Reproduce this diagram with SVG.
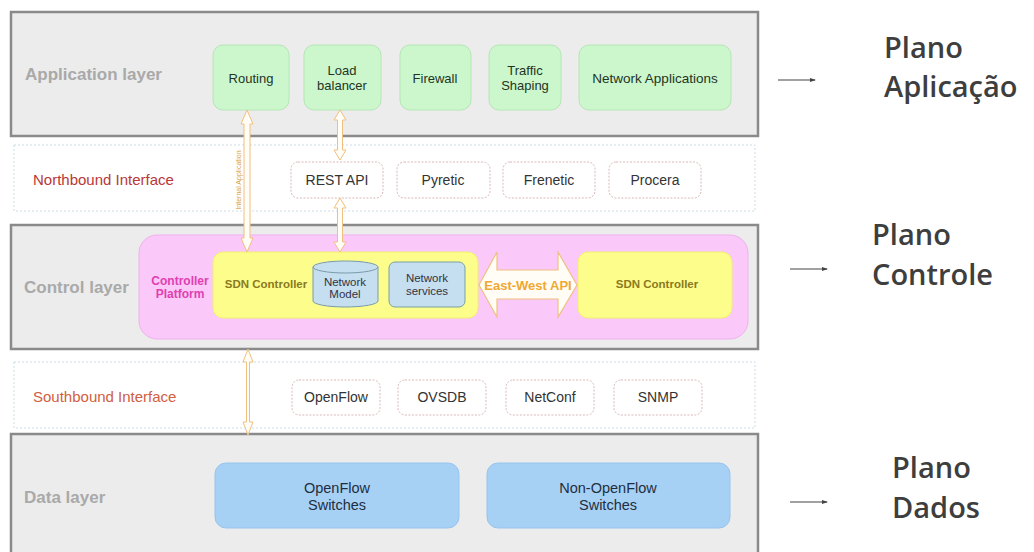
<svg xmlns="http://www.w3.org/2000/svg" width="1034" height="552" viewBox="0 0 1034 552">
<style>
.layer{fill:#ececec;stroke:#8a8a8a;stroke-width:2.5}
.iface{fill:#fff;stroke:#cfdde6;stroke-width:1;stroke-dasharray:2 2}
.app{fill:#ccf7cc;stroke:#b5e6b5;stroke-width:1}
.api{fill:#fff;stroke:#d9b8b8;stroke-width:1;stroke-dasharray:2 1.5}
.sw{fill:#a7d0f5;stroke:#98c4ec;stroke-width:1}
.t{font-family:"Liberation Sans",Arial,sans-serif;text-anchor:middle;dominant-baseline:central}
.lt{font-family:"Liberation Sans",Arial,sans-serif;font-weight:bold;fill:#a9a9a9;font-size:17px;dominant-baseline:central}
.n{font-size:13px;fill:#243424}
.a{font-size:14px;fill:#333}
.pl{font-family:"Open Sans",sans-serif;font-weight:600;font-size:29px;fill:#3e3e3e}
.darr{fill:#fffdf5;stroke:#f0c080;stroke-width:1}
</style>
<defs>
<marker id="ah" markerWidth="6" markerHeight="6" refX="5" refY="3" orient="auto" markerUnits="userSpaceOnUse">
<path d="M0,1 L6,3 L0,5 Z" fill="#444"/>
</marker>
</defs>

<g id="application-layer">
<rect class="layer" x="11" y="12" width="747" height="124"/>
<text class="lt" x="25" y="74">Application layer</text>
</g>
<g id="routing"><rect class="app" x="213" y="45" width="76" height="65" rx="10"/><text class="t n" x="251" y="78">Routing</text></g>
<g id="load-balancer"><rect class="app" x="304" y="45" width="77" height="65" rx="10"/><text class="t n" x="342" y="70">Load</text><text class="t n" x="342" y="85">balancer</text></g>
<g id="firewall"><rect class="app" x="400" y="45" width="71" height="65" rx="10"/><text class="t n" x="435" y="78">Firewall</text></g>
<g id="traffic-shaping"><rect class="app" x="489" y="45" width="72" height="65" rx="10"/><text class="t n" x="525" y="70">Traffic</text><text class="t n" x="525" y="85">Shaping</text></g>
<g id="network-applications"><rect class="app" x="579" y="45" width="152" height="65" rx="10"/><text class="t n" x="655" y="78" style="font-size:13.5px">Network Applications</text></g>

<g id="northbound-interface">
<rect class="iface" x="14" y="145" width="741" height="66"/>
<text class="lt" x="33" y="179" style="font-weight:normal;fill:#b83838;font-size:15px">Northbound Interface</text>
</g>
<g id="rest-api"><rect class="api" x="291" y="162" width="92" height="36" rx="7"/><text class="t a" x="337" y="180">REST API</text></g>
<g id="pyretic"><rect class="api" x="397" y="162" width="93" height="36" rx="7"/><text class="t a" x="443" y="180">Pyretic</text></g>
<g id="frenetic"><rect class="api" x="503" y="162" width="92" height="36" rx="7"/><text class="t a" x="549" y="180">Frenetic</text></g>
<g id="procera"><rect class="api" x="609" y="162" width="92" height="36" rx="7"/><text class="t a" x="655" y="180">Procera</text></g>

<g id="control-layer">
<rect class="layer" x="11" y="225" width="747" height="124"/>
<text class="lt" x="24" y="287">Control layer</text>
</g>
<g id="controller-platform">
<rect x="139" y="235" width="609" height="104" rx="18" fill="#fbc8fa" stroke="#f0b0ef" stroke-width="1"/>
<text class="t" x="180" y="281" style="font-size:12px;font-weight:bold;fill:#e040b0">Controller</text>
<text class="t" x="180" y="294" style="font-size:12px;font-weight:bold;fill:#e040b0">Platform</text>
</g>
<g id="sdn-controller-1">
<rect x="213" y="252" width="265" height="66" rx="10" fill="#fdfd8c" stroke="#f0f070" stroke-width="1"/>
<text class="t" x="266" y="284" style="font-size:11.5px;font-weight:bold;fill:#8a7a20">SDN Controller</text>
</g>
<g id="network-model">
<path d="M313,267 L313,301 A32.5,6 0 0 0 378,301 L378,267" fill="#c5dff0" stroke="#7a9aaa" stroke-width="1"/>
<ellipse cx="345.5" cy="267" rx="32.5" ry="6" fill="#c5dff0" stroke="#7a9aaa" stroke-width="1"/>
<text class="t" x="345" y="282" style="font-size:11.5px;fill:#334">Network</text>
<text class="t" x="345" y="294" style="font-size:11.5px;fill:#334">Model</text>
</g>
<g id="network-services">
<rect x="389" y="262" width="76" height="45" rx="6" fill="#c5dff0" stroke="#7aa0a0" stroke-width="1"/>
<text class="t" x="427" y="278" style="font-size:11.5px;fill:#334">Network</text>
<text class="t" x="427" y="291" style="font-size:11.5px;fill:#334">services</text>
</g>
<g id="sdn-controller-2">
<rect x="578" y="252" width="154" height="66" rx="10" fill="#fdfd8c" stroke="#f0f070" stroke-width="1"/>
<text class="t" x="657" y="284" style="font-size:11.5px;font-weight:bold;fill:#8a7a20">SDN Controller</text>
</g>

<g id="southbound-interface">
<rect class="iface" x="14" y="362" width="741" height="66"/>
<text class="lt" x="33" y="396" style="font-weight:normal;fill:#d06040;font-size:15px">Southbound Interface</text>
</g>
<g id="openflow"><rect class="api" x="292" y="380" width="88" height="35" rx="7"/><text class="t a" x="336" y="397">OpenFlow</text></g>
<g id="ovsdb"><rect class="api" x="398" y="380" width="88" height="35" rx="7"/><text class="t a" x="442" y="397">OVSDB</text></g>
<g id="netconf"><rect class="api" x="506" y="380" width="88" height="35" rx="7"/><text class="t a" x="550" y="397">NetConf</text></g>
<g id="snmp"><rect class="api" x="614" y="380" width="88" height="35" rx="7"/><text class="t a" x="658" y="397">SNMP</text></g>

<g id="data-layer">
<rect class="layer" x="11" y="434" width="747" height="125"/>
<text class="lt" x="24" y="497">Data layer</text>
</g>
<g id="openflow-switches"><rect class="sw" x="215" y="463" width="244" height="65" rx="11"/><text class="t" x="337" y="488" style="font-size:14.5px;fill:#1e2e40">OpenFlow</text><text class="t" x="337" y="505" style="font-size:14.5px;fill:#1e2e40">Switches</text></g>
<g id="non-openflow-switches"><rect class="sw" x="487" y="463" width="243" height="65" rx="11"/><text class="t" x="608" y="488" style="font-size:14.5px;fill:#1e2e40">Non-OpenFlow</text><text class="t" x="608" y="505" style="font-size:14.5px;fill:#1e2e40">Switches</text></g>

<g id="connectors">
<path class="darr" d="M247,110 L253,124 L250,124 L250,238 L253,238 L247,252 L241,238 L244,238 L244,124 L241,124 Z"/>
<text transform="translate(238,180) rotate(-90)" class="t" style="font-size:7px;fill:#d9a040">Internal Application</text>
<path class="darr" d="M340,110 L346,120 L342.5,120 L342.5,150 L346,150 L340,160 L334,150 L337.5,150 L337.5,120 L334,120 Z"/>
<path class="darr" d="M340,198 L346,208 L342.5,208 L342.5,242 L346,242 L340,252 L334,242 L337.5,242 L337.5,208 L334,208 Z"/>
<path class="darr" d="M248,349 L253,362 L249.5,362 L249.5,422 L253,422 L248,435 L243,422 L246.5,422 L246.5,362 L243,362 Z"/>
<path class="darr" d="M479,285 L497,252 L497,270 L558,270 L558,252 L577,285 L558,317 L558,299 L497,299 L497,317 Z" style="stroke-width:1.2"/>
<text class="t" x="528" y="285" style="font-size:13px;font-weight:bold;fill:#f0a830">East-West API</text>
<line x1="778" y1="80" x2="815" y2="80" stroke="#444" stroke-width="1.2" marker-end="url(#ah)"/>
<line x1="790" y1="269" x2="827" y2="269" stroke="#444" stroke-width="1.2" marker-end="url(#ah)"/>
<line x1="790" y1="502" x2="827" y2="502" stroke="#444" stroke-width="1.2" marker-end="url(#ah)"/>
</g>

<g id="plano-aplicacao"><text class="pl" x="884" y="58">Plano</text><text class="pl" x="884" y="97">Aplicação</text></g>
<g id="plano-controle"><text class="pl" x="872" y="245">Plano</text><text class="pl" x="872" y="285">Controle</text></g>
<g id="plano-dados"><text class="pl" x="892" y="478">Plano</text><text class="pl" x="892" y="518">Dados</text></g>
</svg>
